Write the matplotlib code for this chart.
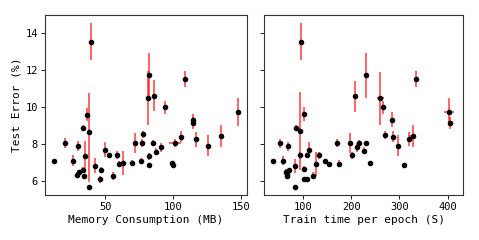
import numpy as np
import matplotlib
matplotlib.use("Agg")
import matplotlib.pyplot as plt

plt.rcParams['font.family'] = ['DejaVu Sans Mono']

# left panel: memory consumption (MB) vs test error (%)
mem_x = [12.2, 20.0, 26.0, 29.5, 29.0, 30.75, 33.25, 34.25, 34.75, 33.75,
         36.25, 38.0, 37.75, 39.5, 42.0, 45.75, 46.5, 49.75, 52.25, 55.25,
         58.5, 59.75, 62.75, 69.5, 71.75, 76.0, 76.75, 77.5, 81.75, 81.75,
         82.25, 81.5, 85.5, 85.25, 87.5, 91.0, 94.0, 98.75, 99.75, 101.25,
         106.0, 108.75, 114.25, 114.5, 117.0, 125.75, 135.5, 147.75]
mem_y = [7.11, 8.05, 7.11, 7.88, 6.33, 6.47, 6.60, 6.26, 7.37, 8.89,
         9.60, 8.67, 5.69, 13.54, 6.84, 6.09, 6.60, 7.70, 7.39, 6.27,
         7.41, 6.93, 6.97, 6.97, 8.06, 7.10, 8.06, 8.52, 6.88, 7.33,
         11.72, 10.49, 10.62, 8.06, 7.60, 7.83, 10.00, 6.97, 6.88, 8.06,
         8.39, 11.53, 9.31, 9.14, 8.26, 7.92, 8.45, 9.73]
mem_err_lo = [0.10, 0.27, 0.28, 0.27, 0.15, 0.15, 0.15, 0.15, 0.78, 0.12,
              0.37, 2.70, 0.00, 1.00, 0.40, 0.20, 0.15, 0.42, 0.15, 0.20,
              0.20, 0.15, 0.64, 0.15, 0.53, 0.15, 0.20, 0.20, 0.10, 0.20,
              1.20, 1.45, 0.85, 0.15, 0.20, 0.25, 0.35, 0.10, 0.10, 0.20,
              0.30, 0.45, 0.30, 0.30, 0.40, 0.55, 0.60, 0.75]
mem_err_hi = [0.10, 0.27, 0.28, 0.27, 0.15, 0.15, 0.15, 0.15, 0.78, 0.12,
              0.37, 2.10, 0.00, 1.00, 0.40, 0.20, 0.15, 0.42, 0.15, 0.20,
              0.20, 0.15, 0.64, 0.15, 0.53, 0.15, 0.20, 0.20, 0.10, 0.20,
              1.20, 1.45, 0.85, 0.15, 0.20, 0.25, 0.35, 0.10, 0.10, 0.20,
              0.30, 0.45, 0.30, 0.30, 0.40, 0.55, 0.60, 0.75]
mem_xerr = [0, 0, 0, 0, 0, 0, 0, 0, 0, 0,
            0, 0, 0, 0, 0, 0, 0, 0, 0, 0,
            0, 0, 0, 0, 0, 0, 0, 0, 0, 0,
            0, 0, 0, 0, 0, 0, 0, 0, 0, 4.4,
            0, 0, 0, 0, 0, 0, 0, 0]

# right panel: train time per epoch (s) vs test error (%)
time_x = [37.9, 51.7, 58.6, 68.3, 66.9, 65.5, 70.3, 67.6, 84.1, 84.1,
          86.2, 93.8, 93.8, 96.6, 101.4, 101.4, 102.0, 107.6, 108.3, 111.7,
          120.0, 126.9, 133.8, 145.5, 153.8, 171.0, 174.5, 196.6, 200.7, 206.9,
          211.7, 215.2, 226.2, 229.7, 230.3, 239.3, 260.7, 266.2, 269.7, 284.8,
          287.6, 297.9, 309.0, 320.7, 327.6, 334.5, 403.4, 405.5]
time_y = [7.11, 8.05, 7.11, 7.88, 6.29, 6.51, 6.58, 6.36, 6.82, 5.69,
          8.89, 8.70, 7.39, 13.53, 9.62, 6.64, 6.09, 6.09, 7.39, 7.70,
          6.29, 6.95, 7.39, 7.10, 6.93, 8.05, 6.95, 8.05, 7.39, 10.58,
          7.83, 8.05, 7.64, 11.72, 8.05, 6.97, 10.47, 9.98, 8.50, 9.32,
          8.39, 7.92, 6.88, 8.28, 8.43, 11.52, 9.74, 9.14]
time_yerr = [0.10, 0.25, 0.25, 0.25, 0.15, 0.15, 0.15, 0.15, 0.40, 0.00,
             0.12, 2.10, 0.20, 1.00, 0.37, 0.15, 0.15, 0.15, 0.15, 0.42,
             0.20, 0.65, 0.20, 0.10, 0.10, 0.20, 0.20, 0.53, 0.20, 0.85,
             0.25, 0.15, 0.20, 1.20, 0.10, 0.10, 1.45, 0.35, 0.20, 0.40,
             0.30, 0.55, 0.10, 0.40, 0.60, 0.45, 0.75, 0.30]
time_xerr = [0, 0, 0, 0, 0, 0, 0, 0, 0, 0,
             0, 0, 0, 0, 0, 0, 0, 0, 0, 0,
             0, 0, 0, 0, 0, 0, 0, 0, 0, 0,
             0, 0, 0, 0, 0, 0, 7, 0, 0, 0,
             0, 0, 0, 0, 7, 0, 10, 0]

fig = plt.figure(figsize=(4.79, 2.4), dpi=100)
ax1 = fig.add_axes([0.094, 0.1875, 0.422, 0.75])
ax2 = fig.add_axes([0.551, 0.1875, 0.416, 0.75], sharey=ax1)

style = dict(fmt='o', color='black', markersize=3, ecolor='red',
             elinewidth=1.2, capsize=0)

eb = ax1.errorbar(mem_x, mem_y, yerr=[mem_err_lo, mem_err_hi], xerr=mem_xerr, **style)
for c in eb[2]:
    c.set_alpha(0.7)
eb = ax2.errorbar(time_x, time_y, yerr=time_yerr, xerr=time_xerr, **style)
for c in eb[2]:
    c.set_alpha(0.7)

ax1.set_xlabel("Memory Consumption (MB)", fontsize=8, labelpad=2)
ax1.set_ylabel("Test Error (%)", fontsize=8, labelpad=3)
ax2.set_xlabel("Train time per epoch (S)", fontsize=8, labelpad=2)

ax1.set_xticks([50, 100, 150])
ax1.set_yticks([6, 8, 10, 12, 14])
ax2.set_xticks([100, 200, 300, 400])
ax2.tick_params(labelleft=False)
for ax in (ax1, ax2):
    ax.tick_params(labelsize=7.5, length=3, width=0.6, pad=2)
    for s in ax.spines.values():
        s.set_linewidth(0.8)
        s.set_color('#333333')

fig.savefig("out.png", dpi=100)
